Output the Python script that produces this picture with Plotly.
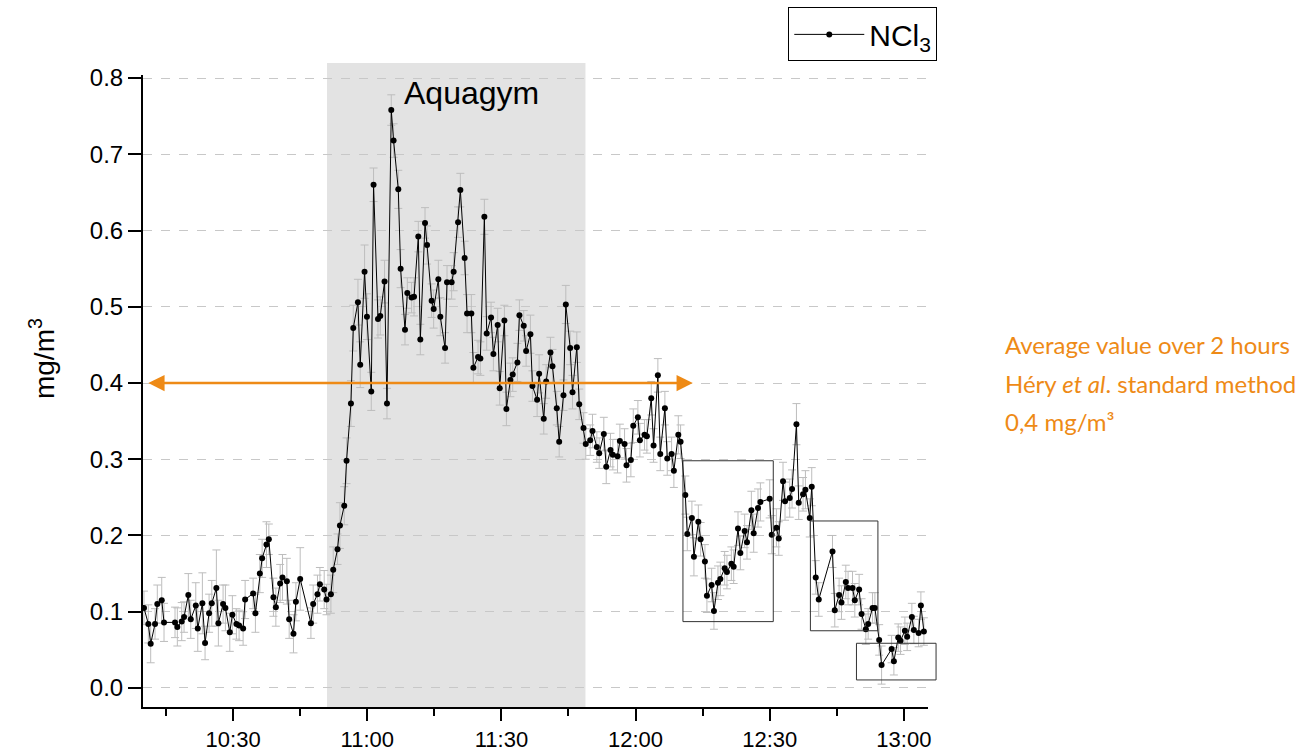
import pandas as pd
import plotly.graph_objects as go

# ---------------- data (minutes after 10:00, mg/m3, error) ----------------
TIME_MIN = [
    10.07, 11.04, 11.57, 12.54, 13.05, 14.04, 14.55, 17.01, 17.53, 18.51,
    19.03, 19.99, 20.53, 21.65, 22.10, 23.13, 23.73, 24.63, 25.23, 26.26,
    26.71, 27.76, 28.28, 29.26, 29.84, 30.74, 31.34, 32.24, 32.69, 34.48,
    34.99, 35.98, 36.49, 37.46, 37.99, 39.02, 39.56, 40.52, 41.04, 42.02,
    42.54, 43.50, 44.04, 45.00, 47.40, 47.91, 48.87, 49.41, 50.37, 50.89,
    51.87, 52.39, 53.35, 53.89, 54.85, 55.37, 56.35, 56.87, 57.92, 58.43,
    59.40, 59.93, 60.90, 61.41, 62.40, 62.91, 63.87, 64.41, 65.37, 65.89,
    66.94, 67.46, 68.44, 68.96, 69.92, 70.46, 71.42, 71.87, 72.92, 73.37,
    74.40, 74.85, 75.90, 76.34, 77.40, 77.84, 78.87, 79.32, 80.31, 80.82,
    81.78, 82.32, 83.28, 83.73, 84.78, 85.30, 86.19, 86.71, 87.69, 88.21,
    89.17, 89.62, 90.67, 91.12, 92.01, 92.53, 93.58, 94.03, 94.99, 95.53,
    96.49, 96.94, 97.99, 98.44, 99.47, 100.01, 100.97, 101.42, 102.38, 102.92,
    103.88, 104.40, 105.38, 105.90, 106.86, 107.40, 108.36, 108.87, 109.86, 110.37,
    111.34, 111.87, 112.90, 113.44, 114.40, 114.92, 115.97, 116.49, 117.54, 117.98,
    118.95, 119.49, 120.52, 120.97, 122.01, 122.53, 123.51, 124.03, 124.99, 125.53,
    126.56, 127.09, 128.06, 128.57, 129.56, 130.07, 131.13, 131.57, 132.60, 133.05,
    134.04, 134.55, 135.51, 135.96, 137.01, 137.53, 138.43, 138.96, 139.93, 140.44,
    141.43, 141.94, 142.91, 143.44, 144.40, 144.92, 145.90, 146.42, 147.38, 147.92,
    150.00, 150.45, 151.50, 152.02, 152.98, 153.43, 154.48, 155.00, 155.98, 156.49,
    157.46, 157.99, 158.96, 159.40, 160.30, 160.97, 164.04, 164.55, 165.52, 166.05,
    167.02, 167.53, 168.52, 169.03, 170.00, 170.54, 171.50, 172.02, 173.00, 173.52,
    174.48, 175.02, 177.26, 177.77, 178.74, 179.26, 180.23, 180.74, 181.79, 182.24,
    183.30, 183.81, 184.48,
]

NCL3 = [
    0.105, 0.084, 0.058, 0.084, 0.110, 0.115, 0.086, 0.086, 0.080, 0.087,
    0.093, 0.122, 0.090, 0.108, 0.078, 0.111, 0.059, 0.098, 0.111, 0.131,
    0.085, 0.110, 0.105, 0.073, 0.096, 0.084, 0.082, 0.078, 0.116, 0.124,
    0.098, 0.150, 0.170, 0.188, 0.195, 0.119, 0.106, 0.137, 0.145, 0.140,
    0.090, 0.071, 0.113, 0.143, 0.085, 0.110, 0.123, 0.136, 0.129, 0.116,
    0.123, 0.155, 0.182, 0.213, 0.239, 0.298, 0.373, 0.472, 0.506, 0.424,
    0.546, 0.487, 0.389, 0.660, 0.484, 0.488, 0.533, 0.373, 0.758, 0.718,
    0.654, 0.550, 0.470, 0.518, 0.512, 0.513, 0.592, 0.457, 0.610, 0.581,
    0.508, 0.497, 0.536, 0.487, 0.446, 0.532, 0.532, 0.546, 0.611, 0.653,
    0.564, 0.491, 0.491, 0.420, 0.434, 0.432, 0.618, 0.465, 0.486, 0.438,
    0.476, 0.393, 0.482, 0.366, 0.404, 0.411, 0.427, 0.489, 0.475, 0.442,
    0.464, 0.396, 0.378, 0.412, 0.353, 0.402, 0.440, 0.422, 0.367, 0.323,
    0.384, 0.503, 0.446, 0.388, 0.447, 0.372, 0.341, 0.320, 0.325, 0.337,
    0.316, 0.308, 0.333, 0.290, 0.312, 0.306, 0.304, 0.324, 0.320, 0.292,
    0.299, 0.344, 0.355, 0.325, 0.332, 0.330, 0.380, 0.318, 0.410, 0.307,
    0.367, 0.301, 0.307, 0.285, 0.332, 0.323, 0.253, 0.202, 0.223, 0.172,
    0.218, 0.195, 0.166, 0.121, 0.135, 0.101, 0.138, 0.143, 0.157, 0.152,
    0.163, 0.159, 0.209, 0.177, 0.206, 0.191, 0.233, 0.203, 0.236, 0.244,
    0.248, 0.201, 0.210, 0.196, 0.271, 0.245, 0.249, 0.261, 0.346, 0.243,
    0.254, 0.260, 0.223, 0.264, 0.145, 0.116, 0.179, 0.102, 0.122, 0.112,
    0.139, 0.131, 0.131, 0.115, 0.129, 0.097, 0.077, 0.084, 0.105, 0.105,
    0.063, 0.030, 0.051, 0.035, 0.066, 0.062, 0.075, 0.067, 0.093, 0.076,
    0.072, 0.108, 0.074,
]

ERR = [
    0.022, 0.025, 0.025, 0.020, 0.025, 0.030, 0.025, 0.020, 0.025, 0.025,
    0.020, 0.028, 0.025, 0.030, 0.030, 0.040, 0.022, 0.025, 0.030, 0.050,
    0.030, 0.025, 0.030, 0.025, 0.025, 0.020, 0.020, 0.022, 0.025, 0.020,
    0.025, 0.025, 0.025, 0.030, 0.020, 0.025, 0.025, 0.025, 0.030, 0.030,
    0.025, 0.025, 0.025, 0.041, 0.020, 0.025, 0.025, 0.022, 0.025, 0.020,
    0.025, 0.030, 0.020, 0.030, 0.025, 0.030, 0.030, 0.030, 0.030, 0.030,
    0.035, 0.030, 0.025, 0.022, 0.025, 0.025, 0.028, 0.020, 0.020, 0.022,
    0.025, 0.025, 0.020, 0.020, 0.020, 0.025, 0.020, 0.020, 0.020, 0.025,
    0.022, 0.025, 0.025, 0.025, 0.020, 0.022, 0.022, 0.025, 0.020, 0.022,
    0.022, 0.025, 0.025, 0.020, 0.022, 0.022, 0.023, 0.022, 0.020, 0.022,
    0.022, 0.022, 0.020, 0.022, 0.022, 0.022, 0.025, 0.020, 0.020, 0.020,
    0.025, 0.020, 0.022, 0.025, 0.020, 0.022, 0.020, 0.022, 0.022, 0.020,
    0.020, 0.025, 0.022, 0.022, 0.020, 0.020, 0.020, 0.020, 0.020, 0.022,
    0.020, 0.020, 0.022, 0.022, 0.022, 0.020, 0.022, 0.022, 0.020, 0.022,
    0.022, 0.022, 0.022, 0.022, 0.020, 0.022, 0.022, 0.022, 0.022, 0.022,
    0.022, 0.022, 0.022, 0.022, 0.025, 0.022, 0.025, 0.022, 0.022, 0.025,
    0.022, 0.022, 0.022, 0.022, 0.022, 0.024, 0.022, 0.022, 0.022, 0.022,
    0.022, 0.022, 0.022, 0.022, 0.022, 0.022, 0.025, 0.025, 0.025, 0.025,
    0.025, 0.025, 0.025, 0.022, 0.025, 0.025, 0.025, 0.025, 0.027, 0.022,
    0.022, 0.025, 0.025, 0.025, 0.022, 0.022, 0.021, 0.022, 0.022, 0.022,
    0.022, 0.022, 0.022, 0.022, 0.020, 0.020, 0.020, 0.020, 0.020, 0.020,
    0.020, 0.025, 0.018, 0.018, 0.018, 0.018, 0.018, 0.018, 0.018, 0.018,
    0.018, 0.018, 0.018,
]

AQUAGYM = (51.0, 108.8)          # minutes after 10:00
AVG_LEVEL = 0.4                  # mg/m3
AVG_SPAN = (10.7, 132.8)         # minutes after 10:00
BOXES = [                        # (t0, t1, v0, v1)
    (130.6, 150.8, 0.087, 0.298),
    (159.1, 174.2, 0.075, 0.219),
    (169.4, 187.2, 0.0105, 0.0586),
]
X_RANGE = (9.85, 185.4)
Y_RANGE = (-0.025, 0.804)
Y_TITLE = "mg/m<sup>3</sup>"
AVG_TEXT = ["Average value over 2 hours",
            "Héry <i>et al</i>. standard method",
            "0,4 mg/m³"]

# ---------------- helpers ----------------
DAY = pd.Timestamp("2021-01-01 10:00:00")


def t(m):
    return DAY + pd.to_timedelta(m, unit="m")


def ts(m):
    return t(m).strftime("%Y-%m-%d %H:%M:%S.%f")


def xpaper(m):
    return (m - X_RANGE[0]) / (X_RANGE[1] - X_RANGE[0])


ORANGE = "#EE8A16"
FONT = "Arial, Liberation Sans, sans-serif"

fig = go.Figure()
fig.add_trace(go.Scatter(
    x=[t(m) for m in TIME_MIN], y=NCL3,
    mode="lines+markers",
    name="NCl<sub>3</sub>",
    line=dict(color="black", width=1),
    marker=dict(color="black", size=6),
    error_y=dict(type="data", array=ERR, color="#bdbdbd", thickness=1, width=4),
))

shapes = [dict(type="rect", xref="x", yref="paper",
               x0=ts(AQUAGYM[0]), x1=ts(AQUAGYM[1]), y0=0, y1=1.019,
               fillcolor="#e3e3e3", line=dict(width=0), layer="below")]
for (a, b, v0, v1) in BOXES:
    shapes.append(dict(type="rect", xref="paper", yref="y",
                       x0=xpaper(a), x1=xpaper(b), y0=v0, y1=v1,
                       line=dict(color="#333333", width=1), layer="above"))

annotations = [
    dict(x=ts(83.3), y=0.780, xref="x", yref="y", text="Aquagym",
         showarrow=False, font=dict(family=FONT, size=32, color="black")),
    dict(x=ts(AVG_SPAN[1]), y=AVG_LEVEL, ax=ts(AVG_SPAN[0]), ay=AVG_LEVEL,
         xref="x", yref="y", axref="x", ayref="y", text="",
         showarrow=True, arrowhead=2, arrowside="end+start",
         arrowwidth=2.5, arrowsize=1.3, arrowcolor=ORANGE),
    dict(x=-0.1288, y=0.552, xref="paper", yref="paper", text=Y_TITLE,
         textangle=-90, showarrow=False, xanchor="center", yanchor="middle",
         font=dict(family=FONT, size=28, color="black")),
]
for txt, yv in zip(AVG_TEXT, [0.451, 0.400, 0.350]):
    annotations.append(dict(x=1.0957, y=yv, xref="paper", yref="y",
                            xanchor="left", yanchor="middle", text=txt,
                            showarrow=False,
                            font=dict(family="Lato, Open Sans, sans-serif",
                                      size=24, color=ORANGE)))

fig.update_layout(
    width=1312, height=754,
    margin=dict(l=143, r=384, t=75, b=47, autoexpand=False),
    paper_bgcolor="white", plot_bgcolor="white",
    font=dict(family=FONT, color="black"),
    shapes=shapes, annotations=annotations,
    showlegend=True,
    legend=dict(x=0.822, y=1.107, xanchor="left", yanchor="top",
                bordercolor="black", borderwidth=1, bgcolor="white",
                font=dict(family=FONT, size=30, color="black"),
                itemwidth=70),
    xaxis=dict(type="date", range=[ts(X_RANGE[0]), ts(X_RANGE[1])],
               tickformat="%H:%M", dtick=1800000, tick0=ts(0),
               ticks="outside", ticklen=12, tickwidth=2, tickcolor="black",
               showline=True, linecolor="black", linewidth=2,
               showgrid=False, zeroline=False,
               tickfont=dict(family=FONT, size=22, color="black"),
               minor=dict(dtick=900000, ticks="outside", ticklen=7,
                          tickwidth=2, tickcolor="black", showgrid=False)),
    yaxis=dict(range=list(Y_RANGE), dtick=0.1, tick0=0, tickformat=".1f",
               ticks="outside", ticklen=13, tickwidth=2, tickcolor="black",
               showline=True, linecolor="black", linewidth=2,
               showgrid=True, gridcolor="#c8c8c8", griddash="dash", gridwidth=1,
               zeroline=False,
               tickfont=dict(family=FONT, size=24, color="black")),
)

fig.write_html("out.html")
